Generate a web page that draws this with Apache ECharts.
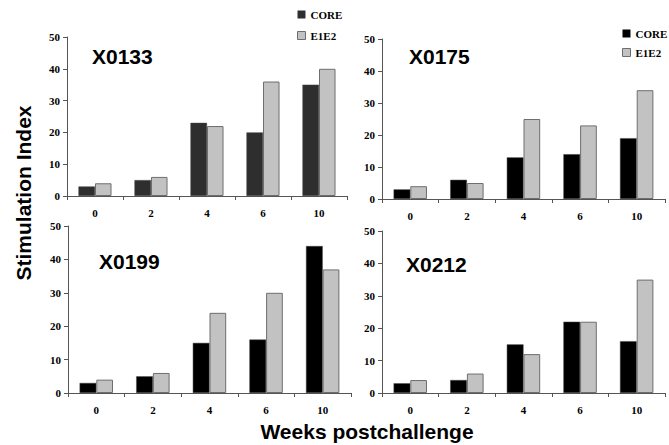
<!DOCTYPE html>
<html>
<head>
<meta charset="utf-8">
<script src="https://cdn.jsdelivr.net/npm/echarts@6/dist/echarts.min.js"></script>
<style>html,body{margin:0;padding:0;background:#fff}#c{width:669px;height:445px}</style>
</head>
<body>
<div id="c"></div>
<script>
const weeks = ['0', '2', '4', '6', '10'];
const animals = ['X0133', 'X0175', 'X0199', 'X0212'];
const coreX0133 = [3, 5, 23, 20, 35];
const e1e2X0133 = [4, 6, 22, 36, 40];
const coreX0175 = [3, 6, 13, 14, 19];
const e1e2X0175 = [4, 5, 25, 23, 34];
const coreX0199 = [3, 5, 15, 16, 44];
const e1e2X0199 = [4, 6, 24, 30, 37];
const coreX0212 = [3, 4, 15, 22, 16];
const e1e2X0212 = [4, 6, 12, 22, 35];
const yTicks = [0, 10, 20, 30, 40, 50];
const yTitle = 'Stimulation Index';
const xTitle = 'Weeks postchallenge';

const coreData = [coreX0133, coreX0175, coreX0199, coreX0212];
const e1e2Data = [e1e2X0133, e1e2X0175, e1e2X0199, e1e2X0212];

const grids = [
  {left: 67, top: 37, width: 280, height: 159},
  {left: 382, top: 39, width: 283, height: 160},
  {left: 68, top: 226, width: 283, height: 167},
  {left: 382, top: 231, width: 283, height: 162}
];
const coreColors = ['#2e2e2e', '#000', '#000', '#000'];
const titlePos = [[92, 46], [409, 46], [99, 251], [406, 254]];
const serif = '"Liberation Serif","Times New Roman",serif';
const sans = '"Liberation Sans",Arial,Helvetica,sans-serif';

const xAxes = [], yAxes = [], series = [], titles = [];
grids.forEach((g, i) => {
  xAxes.push({
    type: 'category', gridIndex: i, data: weeks, boundaryGap: true,
    axisLine: {lineStyle: {color: '#555', width: 1}},
    axisTick: {show: true, length: 4, alignWithLabel: false, lineStyle: {color: '#555'}},
    axisLabel: {color: '#000', fontFamily: serif, fontWeight: 'bold', fontSize: 11, margin: 11}
  });
  yAxes.push({
    type: 'value', gridIndex: i, min: yTicks[0], max: yTicks[yTicks.length - 1], interval: 10,
    splitLine: {show: false},
    axisLine: {show: true, lineStyle: {color: '#555', width: 1}},
    axisTick: {show: true, length: 4, lineStyle: {color: '#555'}},
    axisLabel: {color: '#000', fontFamily: serif, fontWeight: 'bold', fontSize: 11, margin: 7}
  });
  series.push({
    name: 'CORE', type: 'bar', xAxisIndex: i, yAxisIndex: i, data: coreData[i],
    barGap: '0%', barCategoryGap: '41%',
    itemStyle: {color: coreColors[i], borderColor: '#444', borderWidth: 0.5},
    emphasis: {disabled: true}
  });
  series.push({
    name: 'E1E2', type: 'bar', xAxisIndex: i, yAxisIndex: i, data: e1e2Data[i],
    barGap: '0%', barCategoryGap: '41%',
    itemStyle: {color: '#c2c2c2', borderColor: '#6e6e6e', borderWidth: 1},
    emphasis: {disabled: true}
  });
  titles.push({
    text: animals[i], left: titlePos[i][0], top: titlePos[i][1], padding: 0,
    textStyle: {fontFamily: sans, fontWeight: 'bold', fontSize: 21, color: '#000'}
  });
});

titles.push({
  text: xTitle, left: 367, top: 420, textAlign: 'center', padding: 0,
  textStyle: {fontFamily: sans, fontWeight: 'bold', fontSize: 21, lineHeight: 23, color: '#000'}
});

const legendText = {fontFamily: serif, fontWeight: 'bold', fontSize: 11, color: '#000'};
const chart = echarts.init(document.getElementById('c'), null, {renderer: 'svg'});
chart.setOption({
  animation: false,
  backgroundColor: '#fff',
  title: titles,
  legend: [
    {left: 297, top: 9, padding: 0, orient: 'vertical', itemWidth: 8, itemHeight: 8, itemGap: 10,
     icon: 'rect', textStyle: legendText, selectedMode: false,
     data: [{name: 'CORE', itemStyle: {color: '#2e2e2e', borderWidth: 0}},
            {name: 'E1E2', itemStyle: {color: '#c2c2c2', borderColor: '#6e6e6e', borderWidth: 1}}]},
    {left: 622, top: 28, padding: 0, orient: 'vertical', itemWidth: 8, itemHeight: 8, itemGap: 8,
     icon: 'rect', textStyle: legendText, selectedMode: false,
     data: [{name: 'CORE', itemStyle: {color: '#000', borderWidth: 0}},
            {name: 'E1E2', itemStyle: {color: '#c2c2c2', borderColor: '#6e6e6e', borderWidth: 1}}]}
  ],
  grid: grids,
  xAxis: xAxes,
  yAxis: yAxes,
  series: series,
  graphic: [{
    type: 'text', x: 23, y: 193, rotation: Math.PI / 2,
    style: {text: yTitle, fill: '#000', font: 'bold 21px ' + sans, textAlign: 'center', textVerticalAlign: 'middle'}
  }]
});
</script>
</body>
</html>
